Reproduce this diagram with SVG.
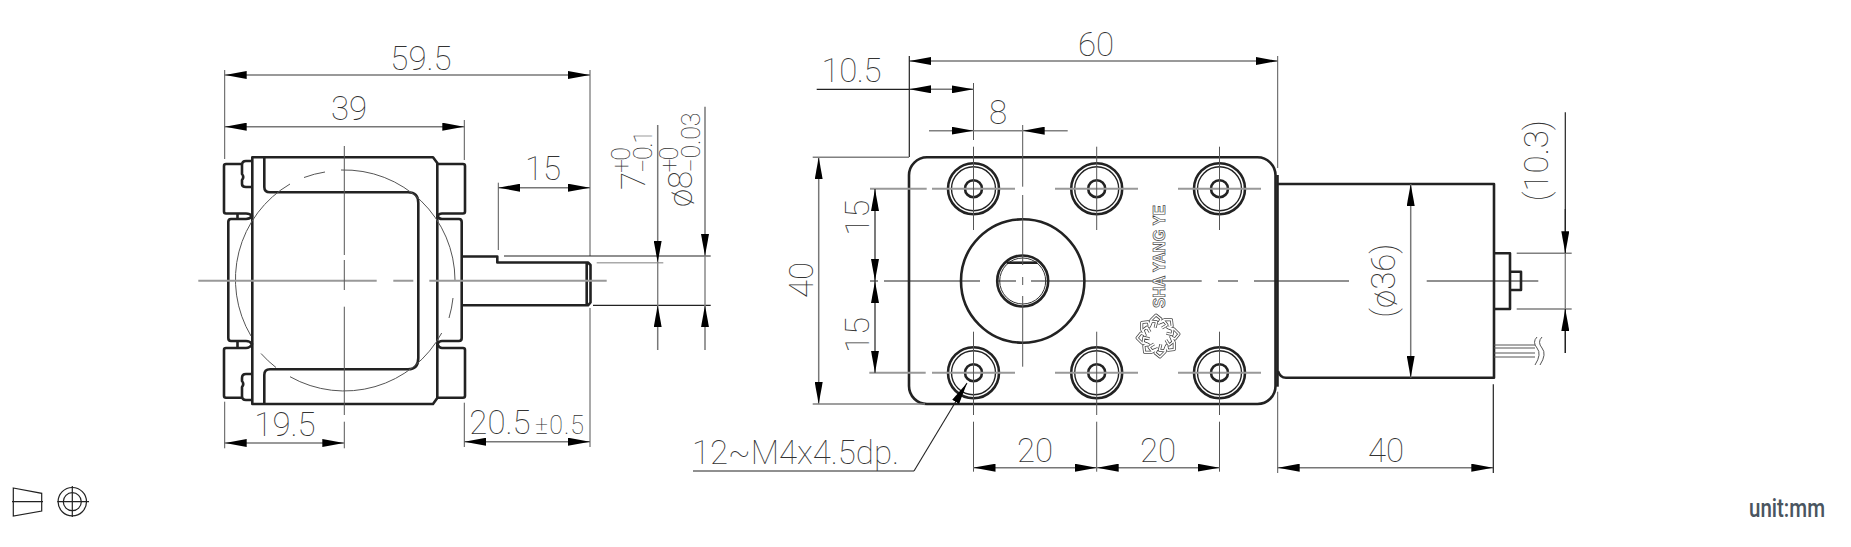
<svg xmlns="http://www.w3.org/2000/svg" width="1851" height="547" viewBox="0 0 1851 547">
<style>
.o{fill:none;stroke:#222;stroke-width:2.6;stroke-linejoin:round}
.c{fill:none;stroke:#999;stroke-width:2}
.k{fill:none;stroke:#222;stroke-width:1.2}
.g{fill:none;stroke:#808080;stroke-width:1.4}
.h{fill:none;stroke:#555;stroke-width:1}
.d{fill:none;stroke:#777;stroke-width:1.5;marker-start:url(#a);marker-end:url(#a)}
.e{fill:none;stroke:#777;stroke-width:1.5;marker-end:url(#a)}
.t{font-family:"Roboto","Liberation Sans",sans-serif;font-weight:100;font-size:33px;fill:#333;text-anchor:middle}
.s{font-size:25px}
.x{font-family:"Roboto","Liberation Sans",sans-serif;font-weight:500;font-size:25px;fill:#4a5560}
.l{font-family:"Liberation Sans",sans-serif;font-weight:700;font-size:16px;fill:#fff;stroke:#444;stroke-width:.7;text-anchor:middle}
</style>
<defs>
<marker id="a" markerUnits="userSpaceOnUse" markerWidth="22" markerHeight="8" refX="22" refY="4" orient="auto-start-reverse"><path d="M0 0L22 4L0 8z" fill="#000"/></marker>
<g id="hole"><circle r="25.5" class="o"/><circle r="22" fill="none" stroke="#222" stroke-width="1.4"/><circle r="8.5" class="o" stroke-width="3"/></g>
<g id="petal"><path d="M-9-9L-7-16L-2-21L3-17L1-13L6-15L9-11L4-8"/></g>
</defs>

<g id="side-view">
<path class="o" d="M252.3 157.3H433L437.3 163V398L433 404H252.3ZM264.3 157.3V187Q264.3 192.3 270 192.3H408Q418.3 192.3 418.3 203V358Q418.3 369.3 408 369.3H270Q264.3 369.3 264.3 375V404"/>
<path class="o" d="M252 161H246Q242 161 242 165V174Q244.5 177 242 180V184Q242 187 246 187H252M242 164H226Q224 164 224 166V211.5Q224 213.5 226 213.5H246Q250 213.5 252 216Q250 219 246 219H231Q228.3 219 228.3 222V338Q228.3 341 231 341H246Q250 341 252 344Q250 348 246 348H226Q224 348 224 350V395.7Q224 397.7 226 397.7H242M252 374H246Q242 374 242 378V381Q244.5 384 242 387V396Q242 400 246 400H252M237.5 213.5V219M237.5 341V348"/>
<path class="o" d="M437.3 164H463Q465 164 465 166V211.5Q465 213.5 463 213.5H442Q439 213.5 437.3 216Q439 219 442 219H459Q461.7 219 461.7 222V338Q461.7 341 459 341H442Q439 341 437.3 344Q439 348 442 348H463Q465 348 465 350V395.7Q465 397.7 463 397.7H437.3"/>
<path class="o" d="M461.7 256.5H497.3V262.5H588L590.5 265V302.5L588 305.3H461.7M586.7 262.5V305.3"/>
<path class="h" d="M341 170A110.7 110.7 0 0 1 455 280M453 298A110.7 110.7 0 0 1 449 318M441.7 333A110.7 110.7 0 0 1 290 376.7M276 367.5A110.7 110.7 0 0 1 261 353.5M251 336A110.7 110.7 0 0 1 290 184M304 177.5A110.7 110.7 0 0 1 325 172"/>
<path class="c" d="M198.3 280.7H376.7M393.3 280.7H413.3M429.3 280.7H606.7"/>
<path class="h" d="M344.3 146V255M344.3 260V290M344.3 306.7V415M344.3 421.7V448.3"/>
</g>

<g id="side-dimensions">
<path class="d" d="M224.7 75H590"/>
<path class="d" d="M224.7 126.7H464.3"/>
<path class="d" d="M498.3 187.7H590"/>
<path class="d" d="M224.7 443H344.3"/>
<path class="d" d="M464.3 441.7H590"/>
<path class="h" d="M224.7 70V159M590 70V256M464.3 120V160M498.3 182.7V250M224.7 401.7V448.3M464.3 402.7V447M590 308V447"/>
<path class="k" d="M504 256H710.7M593 305.3H710.7"/>
<path style="fill:none;stroke:#aaa;stroke-width:1.4" d="M596.7 262.7H663.3"/>
<path class="e" d="M657.7 125V262.5"/>
<path class="g" d="M657.7 262V306"/>
<path class="e" d="M657.7 350V305.3"/>
<path class="e" d="M705 106.7V256"/>
<path class="g" d="M705 256V306"/>
<path class="e" d="M705 350V305.3"/>
<text class="t" x="421" y="69.5">59.5</text>
<text class="t" x="349" y="120">39</text>
<text class="t" x="543" y="180">15</text>
<text class="t" x="285" y="436">19.5</text>
<text class="t" x="500" y="434">20.5</text>
<text class="t s" x="559.5" y="434" textLength="49">±0.5</text>
<text class="t" transform="translate(645 181) rotate(-90)">7</text>
<text class="t s" transform="translate(630 160) rotate(-90)" textLength="26">+0</text>
<text class="t s" transform="translate(652 151.5) rotate(-90)" textLength="43">−0.1</text>
<text class="t" transform="translate(692 189) rotate(-90)">ø8</text>
<text class="t s" transform="translate(678 159.5) rotate(-90)" textLength="26">+0</text>
<text class="t s" transform="translate(700 142.5) rotate(-90)" textLength="60">−0.03</text>
</g>

<g id="front-view">
<rect class="o" x="909" y="157.3" width="366.5" height="246.7" rx="18" ry="18"/>
<path class="o" d="M1277.5 175V386.7"/>
<path class="o" d="M1278 184H1494V377.7H1286Q1280 377.7 1278 371"/>
<path class="o" d="M1494 253.3H1510V309H1494M1510 271.7H1521V290H1510"/>
<path class="h" stroke="#999" d="M1494 345H1535M1494 348H1535M1494 353H1535M1494 357H1535"/>
<path class="h" d="M1537 337Q1532 342 1537 348T1535 365M1542 337Q1537 342 1542 348T1540 365"/>
<circle class="o" cx="1022.7" cy="281" r="61.7"/>
<circle class="o" cx="1022.7" cy="281" r="25.5"/>
<circle cx="1022.7" cy="281" r="23" fill="none" stroke="#333" stroke-width="1"/>
<path class="o" d="M1006.7 262.7H1037.3"/>
<use href="#hole" x="973.5" y="188.7"/>
<use href="#hole" x="1096.7" y="188.7"/>
<use href="#hole" x="1219.5" y="188.7"/>
<use href="#hole" x="973.5" y="372.7"/>
<use href="#hole" x="1096.7" y="372.7"/>
<use href="#hole" x="1219.5" y="372.7"/>
<path class="c" d="M870 188.7H926.7M932 188.7H1015M1055 188.7H1138M1178 188.7H1261M869.3 372.7H925.7M932 372.7H1015M1055 372.7H1138M1178 372.7H1261"/>
<path class="h" stroke-width="1.2" d="M973.5 83V140M973.5 146.7V230M1096.7 146.7V230M1219.5 146.7V230M973.5 331.7V415M973.5 421.7V471.7M1096.7 331.7V415M1096.7 421.7V471.7M1219.5 331.7V415M1219.5 421.7V471.7M1022.7 125V186.7M1022.7 195V265M1022.7 277V285M1022.7 296V366.7"/>
<path class="k" d="M884 281H980M996 281H1016M1031 281H1201.7M1218 281H1238M1254 281H1349M1426.7 281H1538.3"/>
<g id="logo">
<text class="l" transform="translate(1165 256.5) rotate(-90)" textLength="103" lengthAdjust="spacingAndGlyphs">SHA YANG YE</text>
<g fill="none" stroke="#444" stroke-width="3" stroke-linejoin="round">
<use href="#petal" transform="translate(1158 336)"/>
<use href="#petal" transform="translate(1158 336) rotate(45)"/>
<use href="#petal" transform="translate(1158 336) rotate(90)"/>
<use href="#petal" transform="translate(1158 336) rotate(135)"/>
<use href="#petal" transform="translate(1158 336) rotate(180)"/>
<use href="#petal" transform="translate(1158 336) rotate(225)"/>
<use href="#petal" transform="translate(1158 336) rotate(270)"/>
<use href="#petal" transform="translate(1158 336) rotate(315)"/>
</g>
<g fill="none" stroke="#fff" stroke-width="1.5" stroke-linejoin="round">
<use href="#petal" transform="translate(1158 336)"/>
<use href="#petal" transform="translate(1158 336) rotate(45)"/>
<use href="#petal" transform="translate(1158 336) rotate(90)"/>
<use href="#petal" transform="translate(1158 336) rotate(135)"/>
<use href="#petal" transform="translate(1158 336) rotate(180)"/>
<use href="#petal" transform="translate(1158 336) rotate(225)"/>
<use href="#petal" transform="translate(1158 336) rotate(270)"/>
<use href="#petal" transform="translate(1158 336) rotate(315)"/>
</g>
</g>
</g>

<g id="front-dimensions">
<path class="d" d="M909.3 61H1277.7"/>
<path class="d" d="M909.3 89.3H973.5"/>
<path class="k" d="M816.7 89.3H909.3"/>
<path class="e" d="M951 130.7H973.5"/>
<path class="e" d="M1045 130.7H1022.7"/>
<path class="g" d="M929 130.7H951M1045 130.7H1067.7M973.5 130.7H1022.7"/>
<path class="d" d="M818.7 157.3V404"/>
<path class="d" style="stroke:#222;stroke-width:1.2" d="M875 189V281"/>
<path class="d" style="stroke:#222;stroke-width:1.2" d="M875 281V372.7"/>
<path class="d" d="M1410.7 184V377.7"/>
<path class="d" d="M1277.7 467.7H1493.3"/>
<path class="d" d="M973.5 467.7H1096.7"/>
<path class="d" d="M1096.7 467.7H1219.5"/>
<path class="k" d="M909.3 56V157M1565.3 112.3V231M1565.3 331V353M1493.3 384.3V473M870 281H878"/>
<path class="g" d="M812.7 157.3H909M812.7 404H925M1516.7 253.3H1571.7M1516.7 309H1571.7M1565.3 231V331"/>
<path class="h" stroke="#aaa" d="M1277.7 56V168M1277.7 391.7V473"/>
<path class="e" style="stroke:#222;stroke-width:1.2" d="M1565.3 209V253.3"/>
<path class="e" style="stroke:#222;stroke-width:1.2" d="M1565.3 353V309"/>
<path class="k" d="M693 471H914"/>
<path class="e" style="stroke:#222;stroke-width:1.1" d="M914 471L967 383"/>
<text class="t" x="1096" y="56">60</text>
<text class="t" x="851.5" y="82.3" textLength="60">10.5</text>
<text class="t" x="998" y="124.3">8</text>
<text class="t" transform="translate(869.3 217.7) rotate(-90)">15</text>
<text class="t" transform="translate(869 335) rotate(-90)">15</text>
<text class="t" transform="translate(812.7 280) rotate(-90)">40</text>
<text class="t" transform="translate(1548 160.7) rotate(-90)">(10.3)</text>
<text class="t" transform="translate(1395 280.7) rotate(-90)">(ø36)</text>
<text class="t" x="795.5" y="464" textLength="207">12~M4x4.5dp.</text>
<text class="t" x="1035" y="461.7">20</text>
<text class="t" x="1158" y="461.7">20</text>
<text class="t" x="1386" y="461.7">40</text>
</g>

<g id="projection-symbol">
<path class="k" d="M13.3 488L41.7 493.3V511L13.3 516ZM12 501.7H43M57.3 501.7H89M72.3 486V517"/>
<circle class="k" cx="72.3" cy="501.7" r="14.2"/>
<circle class="k" cx="72.3" cy="501.7" r="9"/>
</g>
<text class="x" x="1749" y="516.7" textLength="76" lengthAdjust="spacingAndGlyphs">unit:mm</text>
</svg>
